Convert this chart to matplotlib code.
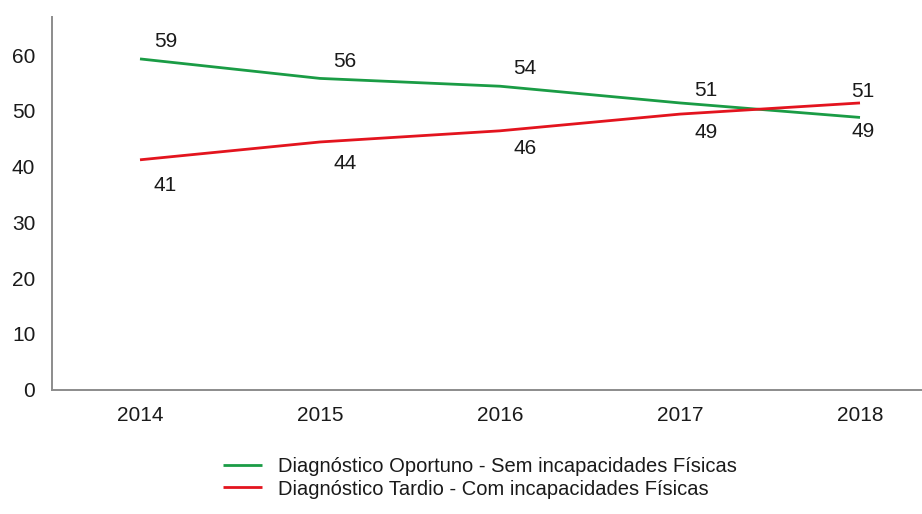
import matplotlib
matplotlib.use("Agg")
import matplotlib.pyplot as plt

years = [2014, 2015, 2016, 2017, 2018]
oportuno = [59.3, 55.8, 54.4, 51.4, 48.8]
tardio = [41.2, 44.4, 46.4, 49.4, 51.4]
label_oportuno = "Diagnóstico Oportuno - Sem incapacidades Físicas"
label_tardio = "Diagnóstico Tardio - Com incapacidades Físicas"
yticks = [0, 10, 20, 30, 40, 50, 60]

# label offsets (pixels) – style only
off_op = [(26, 17), (25, 17), (25, 18), (26, 12), (3, -14)]
off_ta = [(25, -26), (25, -22), (25, -18), (26, -18), (3, 11)]

plt.rcParams['font.family'] = ['Liberation Sans', 'DejaVu Sans']
FS = 15
LFS = 14.5
W, H = 922, 514
fig = plt.figure(figsize=(W / 100, H / 100), dpi=100)
left, right, top, bottom = 52, 922, 17, 389.5
ax = fig.add_axes([left / W, 1 - bottom / H, (right - left) / W, (bottom - top) / H])

green = '#1a9c45'
red = '#e3141e'
ax.plot(years, oportuno, color=green, lw=2.0, label=label_oportuno, solid_capstyle='butt')
ax.plot(years, tardio, color=red, lw=2.0, label=label_tardio, solid_capstyle='butt')

for x, y, (dx, dy) in zip(years, oportuno, off_op):
    ax.annotate(f"{round(y)}", (x, y), xytext=(dx, dy), textcoords='offset pixels',
                ha='center', va='center', fontsize=FS, color='#1a1a1a')
for x, y, (dx, dy) in zip(years, tardio, off_ta):
    ax.annotate(f"{round(y)}", (x, y), xytext=(dx, dy), textcoords='offset pixels',
                ha='center', va='center', fontsize=FS, color='#1a1a1a')

px_per_year = 180.0
ax.set_xlim(2014 - (140 - left) / px_per_year, 2018 + (right - 860) / px_per_year)
ax.set_ylim(0, (bottom - top) / ((bottom - 55) / 60))
ax.set_xticks(years)
ax.set_xticklabels([str(y) for y in years])
ax.set_yticks(yticks)
ax.tick_params(axis='both', length=0, labelsize=FS, colors='#1a1a1a')
ax.tick_params(axis='x', pad=12)
ax.tick_params(axis='y', pad=12)
for s in ['top', 'right']:
    ax.spines[s].set_visible(False)
for s in ['left', 'bottom']:
    ax.spines[s].set_color('#8c8c8c')
    ax.spines[s].set_linewidth(1.4)

leg = fig.legend(loc='center', bbox_to_anchor=(480 / W, 1 - 478 / H), frameon=False,
                 fontsize=LFS, handlelength=1.95, handletextpad=0.8, labelspacing=0.15)
for t in leg.get_texts():
    t.set_color('#1a1a1a')

fig.savefig('out.png', dpi=100)
